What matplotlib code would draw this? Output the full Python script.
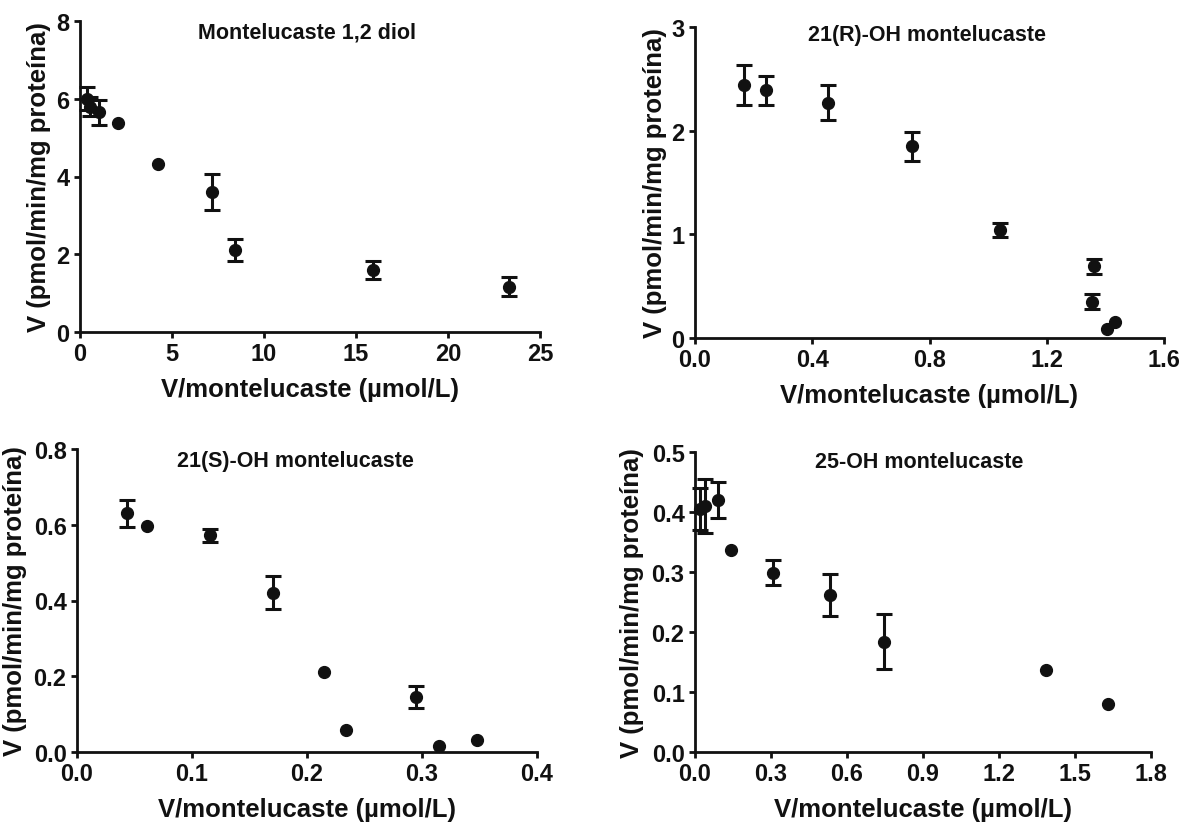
"""Eadie-Hofstee style plots for montelukast metabolites (4 panels)."""

import matplotlib
matplotlib.use("Agg")
import matplotlib.pyplot as plt
import numpy as np

plt.rcParams["font.family"] = ["Liberation Sans", "DejaVu Sans"]
plt.rcParams["font.weight"] = "bold"

INK = "#111111"

# --- panel 1: Montelucaste 1,2 diol
diol_x = [0.36, 0.55, 1.05, 2.05, 4.25, 7.2, 8.4, 15.95, 23.3]
diol_y = [6.0, 5.8, 5.65, 5.37, 4.31, 3.61, 2.11, 1.60, 1.17]
diol_err = [0.3, 0.25, 0.32, 0, 0, 0.46, 0.29, 0.23, 0.24]

# --- panel 2: 21(R)-OH montelucaste
r21_x = [0.166, 0.243, 0.455, 0.74, 1.042, 1.362, 1.356, 1.407, 1.434]
r21_y = [2.44, 2.39, 2.27, 1.85, 1.04, 0.69, 0.35, 0.085, 0.155]
r21_err = [0.19, 0.14, 0.17, 0.14, 0.065, 0.075, 0.07, 0, 0]

# --- panel 3: 21(S)-OH montelucaste
s21_x = [0.0433, 0.0608, 0.1154, 0.170, 0.2146, 0.2335, 0.295, 0.3145, 0.348]
s21_y = [0.630, 0.598, 0.572, 0.421, 0.211, 0.057, 0.145, 0.015, 0.033]
s21_err = [0.035, 0, 0.018, 0.044, 0, 0, 0.029, 0, 0]

# --- panel 4: 25-OH montelucaste
oh25_x = [0.02, 0.04, 0.09, 0.144, 0.309, 0.534, 0.745, 1.387, 1.632]
oh25_y = [0.405, 0.41, 0.42, 0.337, 0.299, 0.262, 0.184, 0.137, 0.080]
oh25_err = [0.035, 0.045, 0.03, 0, 0.021, 0.035, 0.046, 0, 0]

panels = [
    dict(x=diol_x, y=diol_y, err=diol_err, title="Montelucaste 1,2 diol",
         xticks=np.arange(0, 26, 5), xfmt="{:.0f}", yticks=np.arange(0, 9, 2), yfmt="{:.0f}",
         rect=[80, 22, 540, 333], title_pos=(0.493, 0.965), ylab_off=41),
    dict(x=r21_x, y=r21_y, err=r21_err, title="21(R)-OH montelucaste",
         xticks=np.arange(0, 1.61, 0.4), xfmt="{:.1f}", yticks=np.arange(0, 3.1, 1), yfmt="{:.0f}",
         rect=[695, 28, 1164, 339], title_pos=(0.495, 0.975), ylab_off=40),
    dict(x=s21_x, y=s21_y, err=s21_err, title="21(S)-OH montelucaste",
         xticks=np.arange(0, 0.41, 0.1), xfmt="{:.1f}", yticks=np.arange(0, 0.81, 0.2), yfmt="{:.1f}",
         rect=[77, 450, 537, 753], title_pos=(0.474, 0.962), ylab_off=62),
    dict(x=oh25_x, y=oh25_y, err=oh25_err, title="25-OH montelucaste",
         xticks=np.arange(0, 1.81, 0.3), xfmt="{:.1f}", yticks=np.arange(0, 0.51, 0.1), yfmt="{:.1f}",
         rect=[695, 453, 1151, 753], title_pos=(0.492, 0.967), ylab_off=63),
]

W, H = 1192, 828
fig = plt.figure(figsize=(W / 100, H / 100), dpi=100)

for p in panels:
    l, t, r, b = p["rect"]
    ax = fig.add_axes([l / W, 1 - b / H, (r - l) / W, (b - t) / H])
    x = np.array(p["x"])
    y = np.array(p["y"])
    err = np.array(p["err"])
    has_err = err > 0
    ax.errorbar(x[has_err], y[has_err], yerr=err[has_err], fmt="o", color=INK,
                ms=8.5, elinewidth=2.2, capsize=5.5, capthick=2.2, zorder=3)
    ax.plot(x[~has_err], y[~has_err], "o", color=INK, ms=8.5, zorder=3)

    ax.set_xlim(p["xticks"][0], p["xticks"][-1])
    ax.set_ylim(p["yticks"][0], p["yticks"][-1])
    ax.set_xticks(p["xticks"])
    ax.set_yticks(p["yticks"])
    ax.set_xticklabels([p["xfmt"].format(v) for v in p["xticks"]])
    ax.set_yticklabels([p["yfmt"].format(v) for v in p["yticks"]])
    for s in ("top", "right"):
        ax.spines[s].set_visible(False)
    for s in ("left", "bottom"):
        ax.spines[s].set_linewidth(2.0)
        ax.spines[s].set_color(INK)
    ax.tick_params(length=4.5, width=2.0, pad=3, labelsize=17, colors=INK)
    for lab in ax.get_xticklabels() + ax.get_yticklabels():
        lab.set_fontweight("bold")
    for art in ax.get_children():
        art.set_clip_on(False)

    ax.set_xlabel("V/montelucaste (µmol/L)", fontsize=18.5, fontweight="bold", color=INK,
                  va="center")
    ax.set_ylabel("V (pmol/min/mg proteína)", fontsize=18.5, fontweight="bold", color=INK,
                  va="center")
    ax.xaxis.set_label_coords(0.5, -57 / (b - t))
    ax.yaxis.set_label_coords(-p["ylab_off"] / (r - l), 0.5)
    ax.text(p["title_pos"][0], p["title_pos"][1], p["title"], transform=ax.transAxes,
            ha="center", va="center", fontsize=15.5, fontweight="bold", color=INK)

fig.savefig("out.png", dpi=100)
